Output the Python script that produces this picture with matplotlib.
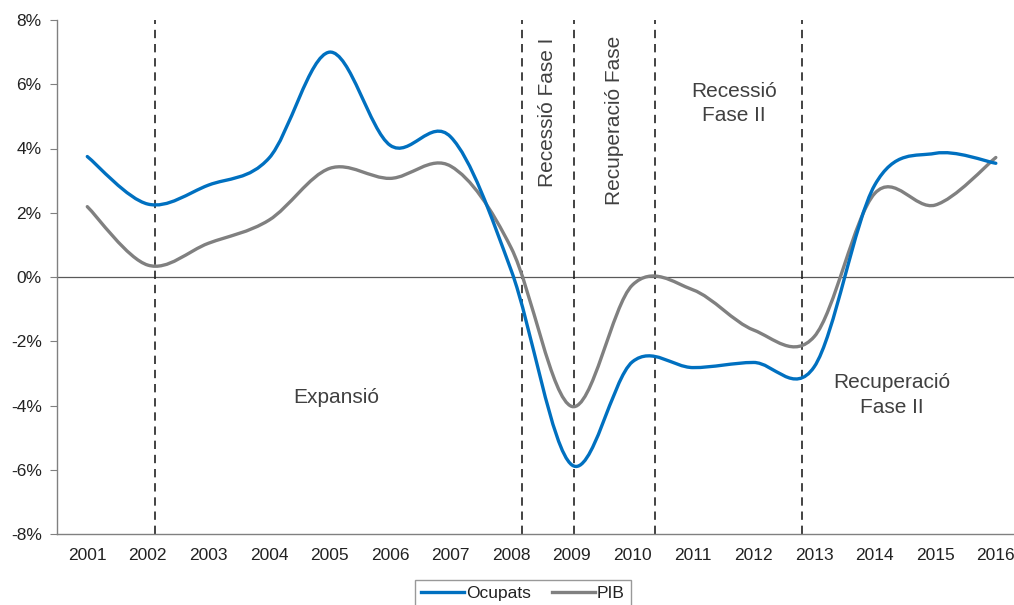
import matplotlib
matplotlib.use("Agg")
import matplotlib.pyplot as plt
from matplotlib.path import Path
from matplotlib.patches import PathPatch
from matplotlib.lines import Line2D
from matplotlib.ticker import FuncFormatter

plt.rcParams['font.family'] = ['Liberation Sans', 'DejaVu Sans']

years = ['2001', '2002', '2003', '2004', '2005', '2006', '2007', '2008',
         '2009', '2010', '2011', '2012', '2013', '2014', '2015', '2016']
ocupats = [3.75, 2.27, 2.86, 3.7, 7.0, 4.1, 4.36, 0.2,
           -5.85, -2.64, -2.82, -2.66, -2.8, 2.86, 3.85, 3.54]
pib = [2.19, 0.37, 1.05, 1.77, 3.38, 3.07, 3.45, 0.9,
       -4.03, -0.25, -0.4, -1.65, -1.86, 2.6, 2.24, 3.72]

# phase boundaries (position on the year axis, 0 = 2001)
phase_lines = [1.11, 7.18, 8.04, 9.37, 11.8]
phase_labels = [
    (4.11, -3.76, "Expansió", 0),
    (7.59, 5.13, "Recessió Fase I", 90),
    (8.70, 4.88, "Recuperació Fase", 90),
    (10.68, 5.4, "Recessió\nFase II", 0),
    (13.28, -3.67, "Recuperació\nFase II", 0),
]

BLUE = '#0070C0'
GREY = '#808080'


def smooth_path(xs, ys):
    # Excel-like smoothed line: Catmull-Rom as cubic Bezier segments
    pts = list(zip(xs, ys))
    n = len(pts)
    verts = [pts[0]]
    codes = [Path.MOVETO]
    for i in range(n - 1):
        p0 = pts[i - 1] if i > 0 else pts[i]
        p1 = pts[i]
        p2 = pts[i + 1]
        p3 = pts[i + 2] if i + 2 < n else pts[i + 1]
        c1 = (p1[0] + (p2[0] - p0[0]) / 6, p1[1] + (p2[1] - p0[1]) / 6)
        c2 = (p2[0] - (p3[0] - p1[0]) / 6, p2[1] - (p3[1] - p1[1]) / 6)
        verts += [c1, c2, p2]
        codes += [Path.CURVE4] * 3
    return Path(verts, codes)


fig = plt.figure(figsize=(10.14, 6.05), dpi=100)
ax = fig.add_axes([57 / 1014, 71 / 605, 957 / 1014, 514 / 605])

x = list(range(len(years)))
ax.add_patch(PathPatch(smooth_path(x, ocupats), fill=False, edgecolor=BLUE,
                       lw=2.4, capstyle='round', zorder=4))
ax.add_patch(PathPatch(smooth_path(x, pib), fill=False, edgecolor=GREY,
                       lw=2.4, capstyle='round', zorder=3))

for xv in phase_lines:
    ax.axvline(xv, color='#222222', lw=1.2, ls=(0, (5, 3.5)), zorder=2)

ax.axhline(0, color='#595959', lw=0.9, zorder=1)

for xt, yt, txt, rot in phase_labels:
    ax.text(xt, yt, txt, rotation=rot, ha='center', va='center',
            fontsize=15, color='#404040', linespacing=1.35)

ax.set_xlim(-0.5, 15.3)
ax.set_ylim(-8, 8)
ax.set_xticks(x)
ax.set_xticklabels(years)
ax.set_yticks(range(-8, 9, 2))
ax.yaxis.set_major_formatter(FuncFormatter(lambda v, p: f"{v:.0f}%"))
ax.tick_params(axis='x', length=0, pad=10, labelsize=12.5, colors='#222222')
ax.tick_params(axis='y', length=5, width=0.8, color='#808080', pad=6,
               labelsize=12.5, labelcolor='#222222')

for s in ['top', 'right']:
    ax.spines[s].set_visible(False)
for s in ['left', 'bottom']:
    ax.spines[s].set_color('#808080')
    ax.spines[s].set_linewidth(1.0)

handles = [Line2D([], [], color=BLUE, lw=2.4), Line2D([], [], color=GREY, lw=2.4)]
leg = fig.legend(handles, ['Ocupats', 'PIB'], loc='upper center', ncol=2,
                 bbox_to_anchor=(523 / 1014, 1 - 580 / 605),
                 bbox_transform=fig.transFigure, frameon=True, fancybox=False,
                 edgecolor='#808080', fontsize=12.5, handlelength=2.5,
                 handletextpad=0.1, columnspacing=1.2, borderpad=0.35,
                 borderaxespad=0)
leg.get_frame().set_linewidth(1.0)
for t in leg.get_texts():
    t.set_color('#222222')

fig.savefig('out.png', dpi=100)
